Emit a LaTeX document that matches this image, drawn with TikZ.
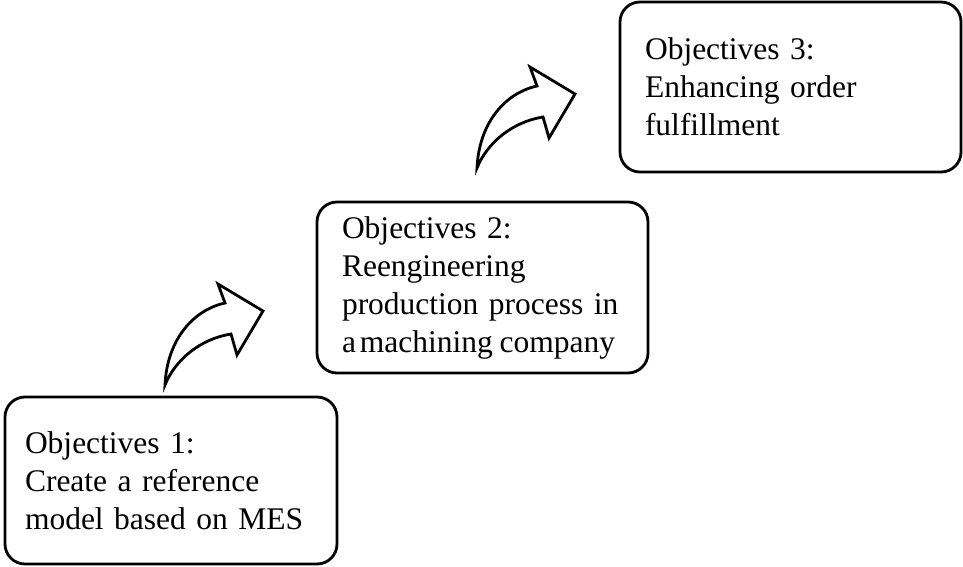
\documentclass[tikz,border=0pt]{standalone}
\usepackage{fontspec}
\setmainfont{Liberation Serif}
\begin{document}
\begin{tikzpicture}[x=1pt,y=-1pt,
  objbox/.style={draw=black, line width=2.8pt, rounded corners=20pt,
    align=left, inner ysep=0pt,
    font=\fontsize{31.5}{38}\selectfont},
  arrowline/.style={draw=black, fill=white, line width=2.8pt, line join=miter},
  curvearrow/.pic={
    \path[arrowline] (0,0) .. controls (2,-45) and (28,-75) .. (60,-82)
      -- (53,-101) -- (98,-74) -- (72,-30) -- (66,-51)
      .. controls (35,-46) and (10,-25) .. cycle;
  }]
  \useasboundingbox (0,0) rectangle (963,567);

  % objective boxes, bottom to top
  \node[objbox, inner xsep=20pt, text width=292pt,
        minimum width=332pt, minimum height=167pt] (obj1) at (171,480.5)
    {Objectives 1:\\Create a reference\\model based on MES};

  \node[objbox, inner xsep=25pt, text width=281pt,
        minimum width=331pt, minimum height=171pt] (obj2) at (482.5,287.5)
    {Objectives 2:\\Reengineering\\
     \makebox[273pt][s]{production\hfill\ process\hfill\ in}\\
     \makebox[273pt][s]{a\hspace{4pt}machining\hfill company}};

  \node[objbox, inner xsep=25pt, text width=291pt,
        minimum width=341pt, minimum height=170pt] (obj3) at (790.5,87)
    {Objectives 3:\\Enhancing order\\fulfillment};

  % curved step arrows between the boxes
  \pic at (165,385) {curvearrow};
  \pic at (477,168) {curvearrow};
\end{tikzpicture}
\end{document}
